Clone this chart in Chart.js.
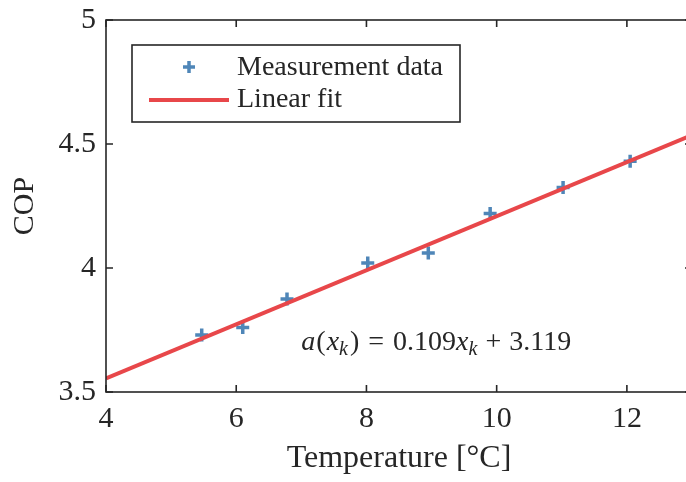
<!DOCTYPE html>
<html>
<head>
<meta charset="utf-8">
<script src="https://cdn.jsdelivr.net/npm/chart.js@4/dist/chart.umd.min.js"></script>
<style>
html, body { margin: 0; padding: 0; background: #fff; overflow: hidden; }
#wrap { width: 702px; height: 482px; }
</style>
</head>
<body>
<div id="wrap"><canvas id="cop-chart" width="702" height="482"></canvas></div>
<script>
const tempC = [5.47, 6.10, 6.78, 8.02, 8.95, 9.90, 11.02, 12.05];
const copMeasured = [3.73, 3.76, 3.875, 4.02, 4.06, 4.22, 4.325, 4.43];
const fitTemp = [4, 13];
const fitCop = [3.555, 4.536];
const xTicks = [4, 6, 8, 10, 12];
const yTicks = [3.5, 4, 4.5, 5];

const BLUE = '#4f86b8';
const RED = '#e8474a';
const INK = '#262626';
const SERIF = '"Liberation Serif", "DejaVu Serif", serif';

// box round the plot with inward ticks on all four sides
const framePlugin = {
  id: 'frame',
  afterDraw(chart) {
    const { ctx, chartArea: a, scales } = chart;
    const len = 7;
    ctx.save();
    ctx.strokeStyle = INK;
    ctx.lineWidth = 1.6;
    ctx.strokeRect(a.left, a.top, a.right - a.left, a.bottom - a.top);
    ctx.beginPath();
    xTicks.forEach(v => {
      const px = scales.x.getPixelForValue(v);
      ctx.moveTo(px, a.bottom); ctx.lineTo(px, a.bottom - len);
      ctx.moveTo(px, a.top); ctx.lineTo(px, a.top + len);
    });
    yTicks.forEach(v => {
      const py = scales.y.getPixelForValue(v);
      ctx.moveTo(a.left, py); ctx.lineTo(a.left + len, py);
      ctx.moveTo(a.right, py); ctx.lineTo(a.right - len, py);
    });
    ctx.stroke();
    ctx.restore();
  }
};

const legendPlugin = {
  id: 'boxLegend',
  afterDraw(chart) {
    const { ctx, chartArea: a } = chart;
    const x0 = a.left + 26, y0 = a.top + 25, w = 328, h = 77;
    ctx.save();
    ctx.fillStyle = '#fff';
    ctx.fillRect(x0, y0, w, h);
    ctx.strokeStyle = INK;
    ctx.lineWidth = 1.6;
    ctx.strokeRect(x0, y0, w, h);

    const r1 = y0 + 22, r2 = y0 + 55;
    ctx.strokeStyle = BLUE;
    ctx.lineWidth = 3.5;
    ctx.beginPath();
    ctx.moveTo(x0 + 57 - 6, r1); ctx.lineTo(x0 + 57 + 6, r1);
    ctx.moveTo(x0 + 57, r1 - 6); ctx.lineTo(x0 + 57, r1 + 6);
    ctx.stroke();

    ctx.strokeStyle = RED;
    ctx.lineWidth = 4;
    ctx.beginPath();
    ctx.moveTo(x0 + 17, r2); ctx.lineTo(x0 + 97, r2);
    ctx.stroke();

    ctx.fillStyle = INK;
    ctx.font = '28px ' + SERIF;
    ctx.textBaseline = 'middle';
    ctx.fillText('Measurement data', x0 + 105, r1 + 1);
    ctx.fillText('Linear fit', x0 + 105, r2);
    ctx.restore();
  }
};

// fit equation, placed in data coordinates
const equationPlugin = {
  id: 'equation',
  afterDraw(chart) {
    const { ctx, scales } = chart;
    let x = scales.x.getPixelForValue(7.0);
    const y = scales.y.getPixelForValue(3.67);
    const parts = [
      ['a', 'i', 1], ['(', 'n', 1], ['x', 'i', 0], ['k', 's', 2], [')', 'n', 9],
      ['=', 'n', 9], ['0.109', 'n', 0], ['x', 'i', 0], ['k', 's', 8], ['+', 'n', 8], ['3.119', 'n', 0]
    ];
    ctx.save();
    ctx.fillStyle = INK;
    ctx.textBaseline = 'alphabetic';
    parts.forEach(([t, kind, gap]) => {
      if (kind === 'i') ctx.font = 'italic 28px ' + SERIF;
      else if (kind === 's') ctx.font = 'italic 20px ' + SERIF;
      else ctx.font = '28px ' + SERIF;
      ctx.fillText(t, x, kind === 's' ? y + 5 : y);
      x += ctx.measureText(t).width + gap;
    });
    ctx.restore();
  }
};

new Chart(document.getElementById('cop-chart'), {
  type: 'scatter',
  data: {
    datasets: [
      {
        label: 'Measurement data',
        data: tempC.map((t, i) => ({ x: t, y: copMeasured[i] })),
        pointStyle: 'cross',
        pointRadius: 6.5,
        pointBorderWidth: 3.5,
        borderColor: BLUE,
        backgroundColor: BLUE,
        order: 2
      },
      {
        label: 'Linear fit',
        type: 'line',
        data: fitTemp.map((t, i) => ({ x: t, y: fitCop[i] })),
        borderColor: RED,
        borderWidth: 4,
        pointRadius: 0,
        fill: false,
        order: 1
      }
    ]
  },
  options: {
    responsive: false,
    animation: false,
    devicePixelRatio: 1,
    layout: { padding: { top: 20, right: 2, left: 0, bottom: 0 } },
    plugins: {
      legend: { display: false },
      tooltip: { enabled: false }
    },
    scales: {
      x: {
        type: 'linear',
        min: 4,
        max: 13,
        afterBuildTicks: s => { s.ticks = xTicks.map(v => ({ value: v })); },
        afterFit: s => { s.height = 90; s.paddingLeft = 0; s.paddingRight = 0; },
        grid: { display: false, drawTicks: false },
        border: { display: false },
        ticks: { color: INK, font: { family: SERIF, size: 30 }, padding: 9, maxRotation: 0 },
        title: { display: true, text: 'Temperature [°C]', color: INK, font: { family: SERIF, size: 32 }, padding: { top: 0 } }
      },
      y: {
        min: 3.5,
        max: 5,
        afterBuildTicks: s => { s.ticks = yTicks.map(v => ({ value: v })); },
        afterFit: s => { s.width = 106; s.paddingTop = 0; s.paddingBottom = 0; },
        grid: { display: false, drawTicks: false },
        border: { display: false },
        ticks: { color: INK, font: { family: SERIF, size: 30 }, padding: 10, callback: v => String(v) },
        title: { display: true, text: 'COP', color: INK, font: { family: SERIF, size: 30 }, padding: { top: 7, bottom: 4 } }
      }
    }
  },
  plugins: [framePlugin, legendPlugin, equationPlugin]
});
</script>
</body>
</html>
